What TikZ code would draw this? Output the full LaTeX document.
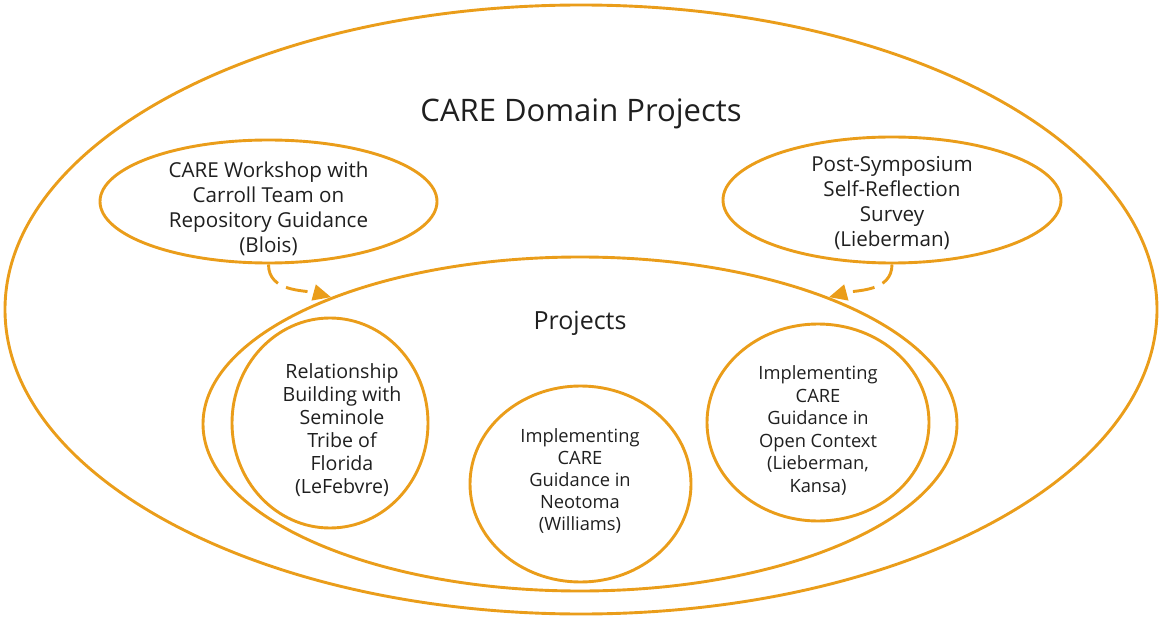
\documentclass[tikz,border=0pt]{standalone}
\usepackage{fontspec}
\setmainfont{Open Sans}
\usetikzlibrary{shapes.geometric,arrows.meta}
\definecolor{care}{RGB}{234,157,26}
\begin{document}
\begin{tikzpicture}[x=1pt,y=-1pt,
  ring/.style={draw=care,line width=2.9pt,ellipse,inner sep=0pt},
  lbl/.style={align=center,text=black!88,inner sep=0pt},
  conn/.style={draw=care,line width=2.9pt,dash pattern=on 22pt off 9pt,
     -{Triangle[length=18pt,width=16pt]}}]
\useasboundingbox (0,0) rectangle (1161,620);
\node[ring,minimum width=1152pt,minimum height=609pt] (outer) at (581,309.5) {};
\node[ring,minimum width=754pt,minimum height=334pt] (proj) at (580,424) {};
\node[ring,minimum width=337pt,minimum height=123pt] (lw) at (268.5,201.5) {};
\node[ring,minimum width=338pt,minimum height=126pt] (rw) at (892,200) {};
\node[ring,minimum width=196pt,minimum height=210pt] (c1) at (330,423) {};
\node[ring,minimum width=221pt,minimum height=196pt] (c2) at (580.5,484) {};
\node[ring,minimum width=222pt,minimum height=197pt] (c3) at (818,422.5) {};

\node[lbl,font=\fontsize{31}{36}\selectfont,anchor=base] (title) at (581,122) {CARE Domain Projects};
\node[lbl,font=\fontsize{25}{29}\selectfont,anchor=base] (ptitle) at (580,329) {Projects};
\node[lbl,font=\fontsize{20.6}{25}\selectfont] (lwt) at (268.5,208.5) {CARE Workshop with\\Carroll Team on\\Repository Guidance\\(Blois)};
\node[lbl,font=\fontsize{20.6}{25}\selectfont] (rwt) at (892,203) {Post-Symposium\\Self-Reflection\\Survey\\(Lieberman)};
\node[lbl,font=\fontsize{19.6}{23}\selectfont] (c1t) at (342,430.5) {Relationship\\Building with\\Seminole\\Tribe of\\Florida\\(LeFebvre)};
\node[lbl,font=\fontsize{18.3}{22}\selectfont] (c2t) at (580,480.5) {Implementing\\CARE\\Guidance in\\Neotoma\\(Williams)};
\node[lbl,font=\fontsize{18.3}{22.6}\selectfont] (c3t) at (818,430.5) {Implementing\\CARE\\Guidance in\\Open Context\\(Lieberman,\\Kansa)};

\draw[conn] (lw.south) to[out=-90,in=165] (proj.153);
\draw[conn] (rw.south) to[out=-90,in=15] (proj.27);
\end{tikzpicture}
\end{document}
